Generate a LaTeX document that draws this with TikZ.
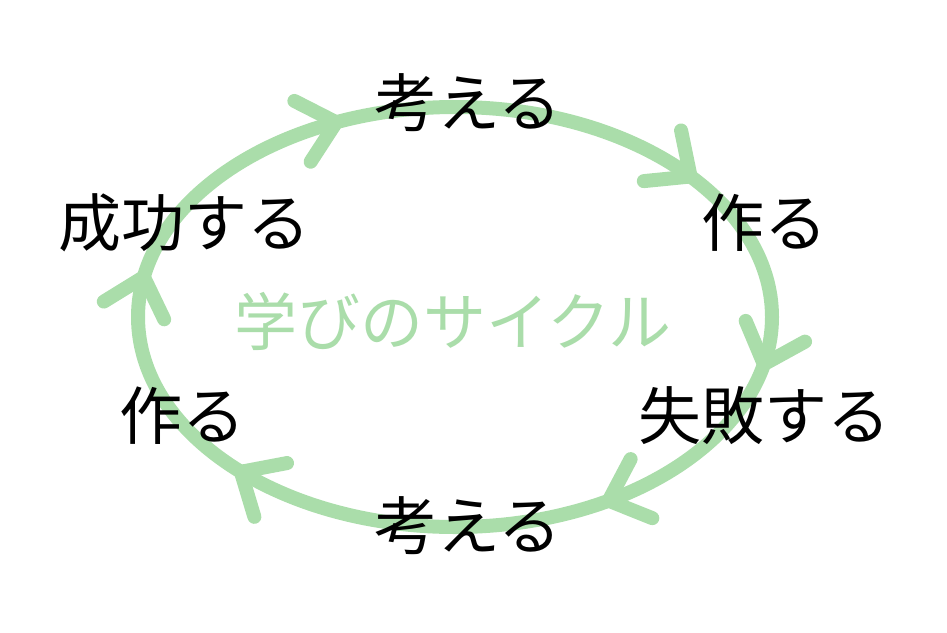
\documentclass[tikz,border=0pt]{standalone}
\usepackage{fontspec}
\setmainfont{Noto Sans CJK JP}
\definecolor{cycgreen}{RGB}{170,221,170}
\begin{document}
\begin{tikzpicture}[x=1pt,y=-1pt,
  cyc/.style={draw=cycgreen,line width=14pt,line cap=round,line join=round},
  lbl/.style={text=black,font=\fontsize{63}{70}\selectfont,inner sep=0pt},
  ttl/.style={text=cycgreen,font=\fontsize{63}{70}\selectfont,inner sep=0pt}]
\useasboundingbox (0,0) rectangle (947,632);
\draw[cyc] (455,317) ellipse [x radius=317pt, y radius=210pt];
\foreach \t in {112,42,-13,-61,227.5,169} {
  \pgfmathsetmacro\px{455+317*cos(\t)}
  \pgfmathsetmacro\py{317-210*sin(\t)}
  \pgfmathsetmacro\ph{atan2(-210*cos(\t),-317*sin(\t))}
  \draw[cyc] (\px,\py) ++(\ph+42:47) -- (\px,\py) -- ++(\ph-42:47);
}
\node[lbl] (think1) at (468,103) {考える};
\node[lbl] (make1) at (764,223) {作る};
\node[lbl] (fail) at (764,416) {失敗する};
\node[lbl] (think2) at (468,526) {考える};
\node[lbl] (make2) at (182,416) {作る};
\node[lbl] (success) at (184,223) {成功する};
\node[ttl] (title) at (453,321) {学びのサイクル};
\end{tikzpicture}
\end{document}
